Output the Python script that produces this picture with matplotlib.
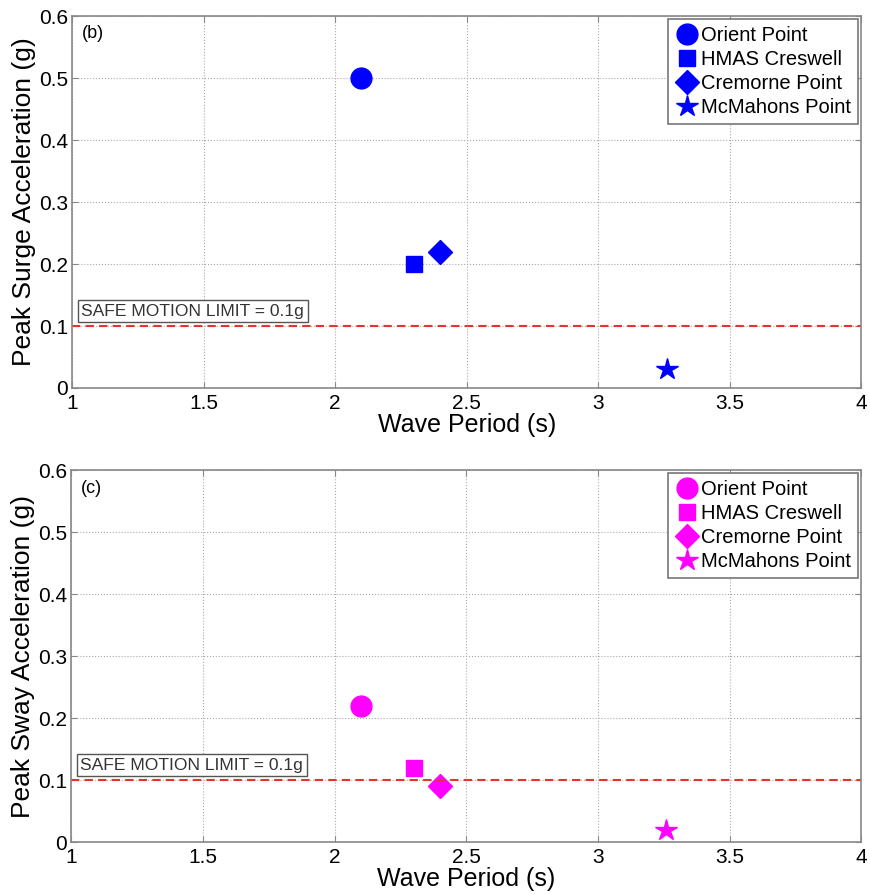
import matplotlib.pyplot as plt

plt.rcParams['font.family'] = ['Liberation Sans', 'DejaVu Sans']

# data
sites = ["Orient Point", "HMAS Creswell", "Cremorne Point", "McMahons Point"]
wave_period = [2.1, 2.3, 2.4, 3.26]
surge_acc = [0.5, 0.2, 0.22, 0.03]
sway_acc = [0.22, 0.12, 0.09, 0.02]
safe_limit = 0.1

markers = ["o", "s", "D", "*"]
msizes = [15, 12, 12, 16]

fig = plt.figure(figsize=(8.69, 8.94), dpi=100)
ax_top = fig.add_axes([0.083, 0.566, 0.908, 0.416])
ax_bot = fig.add_axes([0.082, 0.058, 0.909, 0.416])

panels = [
    (ax_top, surge_acc, "blue", "Peak Surge Acceleration (g)", "(b)"),
    (ax_bot, sway_acc, "magenta", "Peak Sway Acceleration (g)", "(c)"),
]

for ax, vals, col, ylab, tag in panels:
    for name, x, y, m, ms in zip(sites, wave_period, vals, markers, msizes):
        ax.plot(x, y, linestyle="none", marker=m, markersize=ms,
                color=col, label=name)
    ax.axhline(safe_limit, color="#e8322e", linestyle="--", linewidth=1.5,
               dashes=(4, 2.5))
    ax.text(1.035, 0.124, "SAFE MOTION LIMIT = 0.1g", fontsize=12.6,
            color="#333333", va="center", ha="left",
            bbox=dict(facecolor="white", edgecolor="#555555", boxstyle="square,pad=0.2",
                      linewidth=1))
    ax.text(0.012, 0.975, tag, transform=ax.transAxes, fontsize=13,
            va="top", ha="left")
    ax.set_xlim(1, 4)
    ax.set_ylim(0, 0.6)
    ax.set_xticks([1, 1.5, 2, 2.5, 3, 3.5, 4])
    ax.set_xticklabels(["1", "1.5", "2", "2.5", "3", "3.5", "4"])
    ax.set_yticks([0, 0.1, 0.2, 0.3, 0.4, 0.5, 0.6])
    ax.set_yticklabels(["0", "0.1", "0.2", "0.3", "0.4", "0.5", "0.6"])
    ax.tick_params(labelsize=15, direction="in", length=4, color="#888888",
                   top=True, right=True)
    ax.tick_params(axis="x", pad=4.5)
    ax.tick_params(axis="y", pad=3)
    ax.grid(True, linestyle=":", color="#aaaaaa", linewidth=0.8)
    for sp in ax.spines.values():
        sp.set_color("#888888")
        sp.set_linewidth(1.2)
    ax.set_xlabel("Wave Period (s)", fontsize=18, labelpad=0)
    ax.set_ylabel(ylab, fontsize=19, labelpad=2)
    leg = ax.legend(loc="upper right", fontsize=14.5, handletextpad=0.1,
                    handlelength=1.2, borderpad=0.35, labelspacing=0.25,
                    fancybox=False, framealpha=1, borderaxespad=0.15,
                    numpoints=1, markerscale=1.0)
    leg.get_frame().set_edgecolor("#777777")
    leg.get_frame().set_linewidth(1.2)

fig.savefig("out.png", dpi=100)
